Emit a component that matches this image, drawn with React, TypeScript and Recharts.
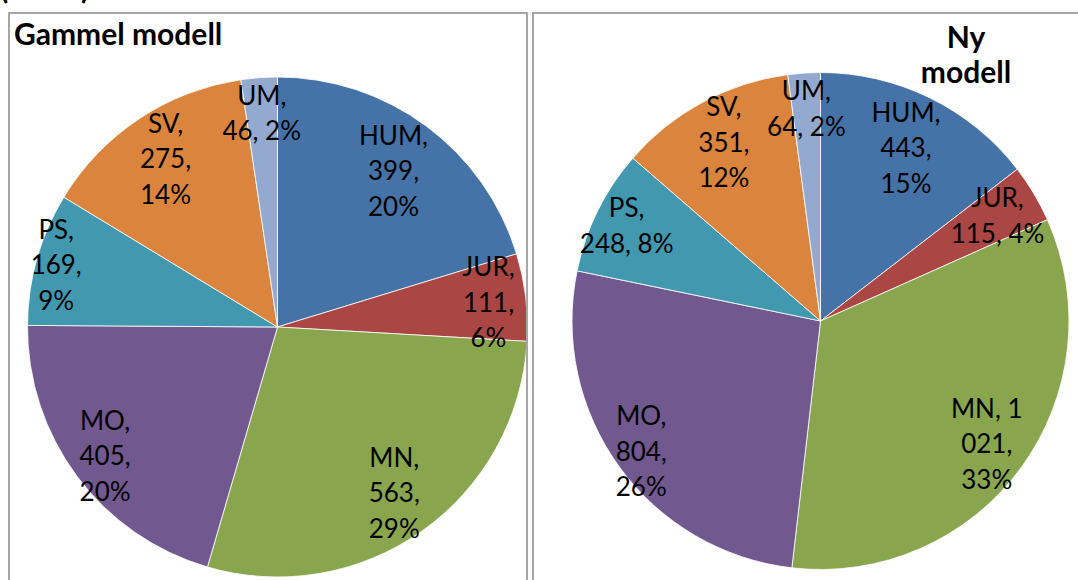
import React from 'react';
import { PieChart, Pie, Cell } from 'recharts';

const categories = ['HUM', 'JUR', 'MN', 'MO', 'PS', 'SV', 'UM'];
const oldValues = [399, 111, 563, 405, 169, 275, 46];
const newValues = [443, 115, 1021, 804, 248, 351, 64];
const colors = ['#4572A7', '#AA4643', '#89A54E', '#71588F', '#4198AF', '#DB843D', '#93A9CF'];
const oldTitle = 'Gammel modell';
const newTitleLines = ['Ny', 'modell'];
const topCaption = '(antall)';

// label layout (how many words go on each line, and how far out the label sits)
const oldGroups = [[1, 1, 1], [1, 1, 1], [1, 1, 1], [1, 1, 1], [1, 1, 1], [1, 1, 1], [1, 2]];
const newGroups = [[1, 1, 1], [1, 2], [2, 1, 1], [1, 1, 1], [1, 2], [1, 1, 1], [1, 2]];
const oldFactors = [0.78, 0.85, 0.81, 0.86, 0.92, 0.81, 0.86];
const newFactors = [0.78, 0.83, 0.83, 0.89, 0.87, 0.82, 0.86];

const RAD = Math.PI / 180;
const FONT = 'Lato, "Open Sans", sans-serif';
const LABEL_SIZE = 26;
const LINE_H = 35.5;

function percents(values: number[]): number[] {
  const total = values.reduce((a, b) => a + b, 0);
  const raw = values.map((v) => (v / total) * 100);
  const floors = raw.map((r) => Math.floor(r));
  let left = 100 - floors.reduce((a, b) => a + b, 0);
  const order = raw
    .map((r, i) => ({ i, rem: r - Math.floor(r) }))
    .sort((a, b) => b.rem - a.rem);
  const out = floors.slice();
  for (let k = 0; k < order.length && left > 0; k++, left--) out[order[k].i] += 1;
  return out;
}

function fmt(v: number): string {
  return String(v).replace(/\B(?=(\d{3})+(?!\d))/g, ' ');
}

function makeLabel(values: number[], groups: number[][], factors: number[]) {
  const pct = percents(values);
  return (props: any) => {
    const { cx, cy, midAngle, outerRadius } = props;
    const index = typeof props.index === 'number' ? props.index : categories.indexOf(props.name);
    const r = outerRadius * factors[index];
    const x = cx + r * Math.cos(-midAngle * RAD);
    const y = cy + r * Math.sin(-midAngle * RAD);
    const tokens = `${categories[index]}, ${fmt(values[index])}, ${pct[index]}%`.split(' ');
    const lines: string[] = [];
    let p = 0;
    for (const g of groups[index]) {
      lines.push(tokens.slice(p, p + g).join(' '));
      p += g;
    }
    const n = lines.length;
    return (
      <text
        x={x}
        y={y}
        textAnchor="middle"
        dominantBaseline="central"
        fontFamily={FONT}
        fontSize={LABEL_SIZE}
        fill="#000"
      >
        {lines.map((l, i) => (
          <tspan key={i} x={x} dy={i === 0 ? (-(n - 1) / 2) * LINE_H : LINE_H}>
            {l}
          </tspan>
        ))}
      </text>
    );
  };
}

const oldData = categories.map((name, i) => ({ name, value: oldValues[i] }));
const newData = categories.map((name, i) => ({ name, value: newValues[i] }));

function OnePie({ data, values, groups, factors, cx, cy, r }: any) {
  return (
    <Pie
      data={data}
      dataKey="value"
      nameKey="name"
      cx={cx}
      cy={cy}
      outerRadius={r}
      startAngle={90}
      endAngle={-270}
      stroke="#ffffff"
      strokeWidth={0.8}
      label={makeLabel(values, groups, factors)}
      labelLine={false}
      isAnimationActive={false}
    >
      {data.map((_: any, i: number) => (
        <Cell key={i} fill={colors[i]} />
      ))}
    </Pie>
  );
}

export default function App() {
  return (
    <div
      style={{
        position: 'absolute',
        left: 0,
        top: 0,
        width: 1078,
        height: 580,
        overflow: 'hidden',
        background: '#fff',
      }}
    >
      <div style={{ position: 'absolute', left: 0, top: 0 }}>
        <PieChart width={531} height={580} margin={{ top: 0, right: 0, bottom: 0, left: 0 }}>
          {OnePie({ data: oldData, values: oldValues, groups: oldGroups, factors: oldFactors, cx: 277.5, cy: 327, r: 250 })}
        </PieChart>
      </div>
      <div style={{ position: 'absolute', left: 533, top: 0 }}>
        <PieChart width={545} height={580} margin={{ top: 0, right: 0, bottom: 0, left: 0 }}>
          {OnePie({ data: newData, values: newValues, groups: newGroups, factors: newFactors, cx: 287.5, cy: 321, r: 248.5 })}
        </PieChart>
      </div>
      <div
        style={{
          position: 'absolute',
          left: 8,
          top: 12,
          width: 516,
          height: 620,
          border: '2px solid #a6a6a6',
          pointerEvents: 'none',
        }}
      />
      <div
        style={{
          position: 'absolute',
          left: 532,
          top: 12,
          width: 620,
          height: 620,
          border: '2px solid #a6a6a6',
          pointerEvents: 'none',
        }}
      />
      <svg
        width={1078}
        height={580}
        style={{ position: 'absolute', left: 0, top: 0, pointerEvents: 'none' }}
      >
        <text x={0} y={-1} fontFamily={FONT} fontWeight={700} fontSize={30} fill="#000">
          {topCaption}
        </text>
        <text x={14} y={45} fontFamily={FONT} fontWeight={700} fontSize={30} fill="#000">
          {oldTitle}
        </text>
        <text textAnchor="middle" fontFamily={FONT} fontWeight={700} fontSize={30} fill="#000">
          {newTitleLines.map((l, i) => (
            <tspan key={i} x={966} y={48 + i * 35}>
              {l}
            </tspan>
          ))}
        </text>
      </svg>
    </div>
  );
}
